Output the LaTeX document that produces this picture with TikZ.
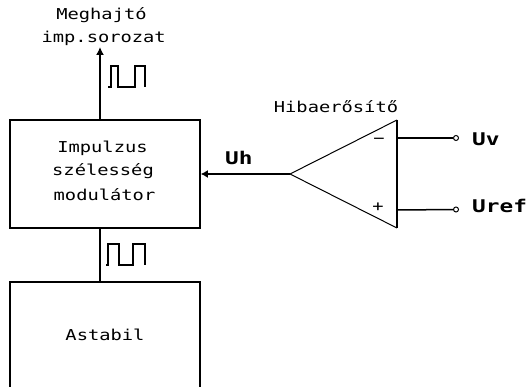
\documentclass[tikz,border=0pt]{standalone}
\usepackage{fontspec}
\usetikzlibrary{arrows.meta}
\newfontfamily\pix[FakeStretch=1.25]{DejaVu Sans Mono}
\newfontfamily\pixb[FakeStretch=1.3]{DejaVu Sans Mono Bold}
\begin{document}
\begin{tikzpicture}[x=1pt,y=-1pt,
  txt/.style={font=\pix\fontsize{15}{15}\selectfont,inner sep=0pt,anchor=base},
  lbl/.style={font=\pixb\fontsize{17.5}{17.5}\selectfont,inner sep=0pt,anchor=base west},
  blk/.style={draw,line width=1.6pt,inner sep=0pt},
  wire/.style={line width=1.5pt},
  pulse/.style={line width=1.3pt},
  arr/.style={-{Latex[length=8pt,width=8pt]}},
  term/.style={circle,draw,line width=1pt,inner sep=0pt,minimum size=5pt}]
\useasboundingbox (0,0) rectangle (528,387);
% blocks
\node[blk,minimum width=190pt,minimum height=108pt] (pwm) at (105,174) {};
\node[inner sep=0pt,minimum width=190pt,minimum height=105pt] (ast) at (105,334.5) {};
\draw[line width=1.6pt] (ast.south west) |- (ast.north east) -- (ast.south east);
% texts
\node[txt] (t1) at (101.5,20) {Meghajtó};
\node[txt] (t2) at (103.7,43) {imp.sorozat};
\coordinate (out) at (100,47);
\node[txt] (m1) at (102.5,152.7) {Impulzus};
\node[txt] (m2) at (103,176) {szélesség};
\node[txt] (m3) at (104.5,200.7) {modulátor};
\node[txt] (a1) at (105,340.7) {Astabil};
\node[txt] (h1) at (336,113) {Hibaerősítő};
% connectors
\draw[wire,arr] (pwm.north -| out) -- (out);
\draw[wire] (pwm.south -| out) -- (ast.north -| out);
% pulses
\draw[pulse] (108,87) -- (111,87) -- (111,66) -- (118,66) -- (118,87) -- (135,87) -- (135,66) -- (145,66) -- (145,87);
\draw[pulse] (106,265) -- (108,265) -- (108,244) -- (119,244) -- (119,265) -- (133,265) -- (133,244) -- (145,244) -- (145,265);
% op amp
\coordinate (apex) at (290,174);
\coordinate (tl) at (397,120);
\coordinate (bl) at (397,228);
\coordinate (inm) at (397,138);
\coordinate (inp) at (397,210);
\draw[line width=1pt] (tl) -- (apex) -- (bl);
\draw[line width=1.6pt] (tl) -- (bl);
\node[font=\pix\fontsize{15}{15}\selectfont,inner sep=0pt] (mn) at (379,141) {−};
\node[font=\pix\fontsize{15}{15}\selectfont,inner sep=0pt] (pl) at (378,207) {+};
\node[term] (tv) at (456,138) {};
\node[term] (tr) at (456,209.5) {};
\draw[wire] (inm) -- (tv);
\draw[wire] (inp) -- (tr);
\node[lbl] (uv) at (472,146) {Uv};
\node[lbl] (ur) at (472,213) {Uref};
\draw[wire,-{Latex[length=7pt,width=8pt]}] (apex) -- (pwm.east |- apex);
\node[lbl] (uh) at (225,165) {Uh};
\end{tikzpicture}
\end{document}
